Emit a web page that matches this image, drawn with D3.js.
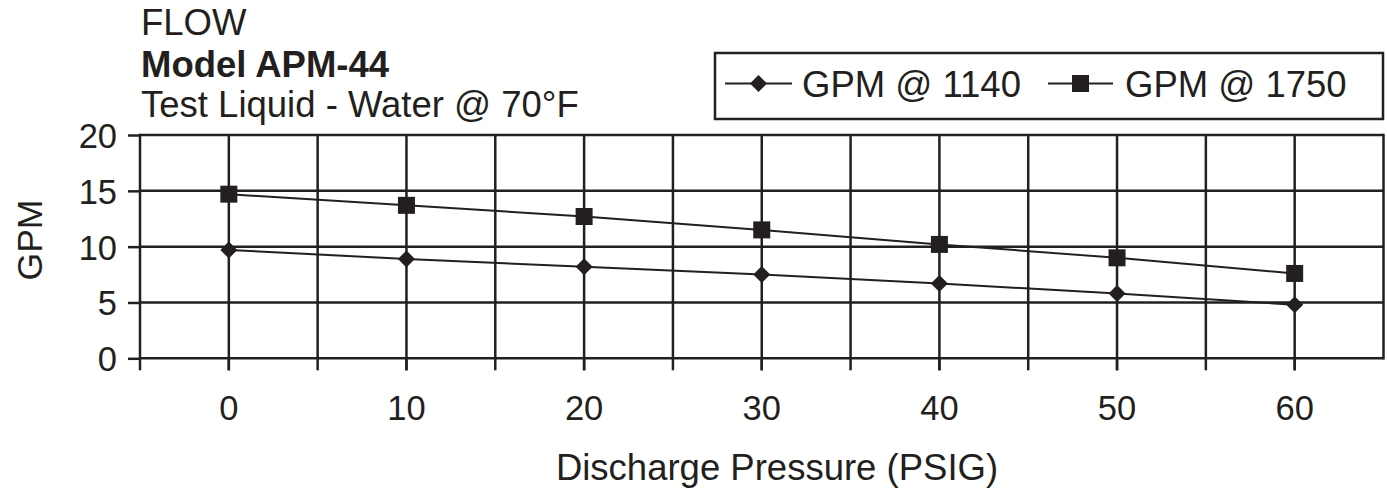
<!DOCTYPE html>
<html><head><meta charset="utf-8">
<script src="https://cdn.jsdelivr.net/npm/d3@7"></script>
<style>body{margin:0;background:#fff}svg{display:block}</style>
</head><body><svg id="c" width="1387" height="489"></svg>
<script>
const categories = [0, 10, 20, 30, 40, 50, 60];
const gpm1140 = [9.7, 8.9, 8.2, 7.5, 6.7, 5.8, 4.8];
const gpm1750 = [14.7, 13.7, 12.7, 11.5, 10.2, 9.0, 7.6];
const yTicks = [0, 5, 10, 15, 20];
const titleLines = ["FLOW", "Model APM-44", "Test Liquid - Water @ 70°F"];
const seriesNames = ["GPM @ 1140", "GPM @ 1750"];
const xTitle = "Discharge Pressure (PSIG)";
const yTitle = "GPM";

const INK = "#231f20";
const FONT = "'Liberation Sans', Arial, Helvetica, sans-serif";
const svg = d3.select("#c");
const L = 140, R = 1383.5, T = 135, B = 358.3, TICK = 12;
const GW = 2.5;

const x = d3.scaleBand().domain(categories).range([L, R]).padding(0);
const bw = x.bandwidth();
const cx = d => x(d) + bw / 2;
const y = d3.scaleLinear().domain([0, 20]).range([B, T]);

// horizontal gridlines
svg.append("g").selectAll("line").data(yTicks).join("line")
  .attr("x1", L).attr("x2", R).attr("y1", d => y(d)).attr("y2", d => y(d))
  .attr("stroke", INK).attr("stroke-width", GW);

// vertical gridlines (band centers and boundaries)
const vpos = [];
categories.forEach(c => { if (c !== categories[0]) vpos.push(x(c)); vpos.push(cx(c)); });
svg.append("g").selectAll("line").data(vpos).join("line")
  .attr("x1", d => d).attr("x2", d => d).attr("y1", T).attr("y2", B + TICK)
  .attr("stroke", INK).attr("stroke-width", GW);
// right border
svg.append("line").attr("x1", R).attr("x2", R).attr("y1", T - GW/2).attr("y2", B + GW/2)
  .attr("stroke", INK).attr("stroke-width", GW);
// left axis
svg.append("line").attr("x1", L).attr("x2", L).attr("y1", T - GW/2).attr("y2", B + TICK)
  .attr("stroke", INK).attr("stroke-width", GW);

// y axis
const yAxis = svg.append("g").attr("transform", `translate(${L},0)`)
  .call(d3.axisLeft(y).tickValues(yTicks).tickSize(TICK).tickPadding(11));
yAxis.select(".domain").remove();
yAxis.selectAll(".tick line").attr("stroke", INK).attr("stroke-width", GW);
yAxis.selectAll(".tick text").attr("fill", INK).attr("font-family", FONT)
  .attr("font-size", 34.5).attr("dy", "0.36em");

// x axis
const xAxis = svg.append("g").attr("transform", `translate(0,${B})`)
  .call(d3.axisBottom(x).tickSize(TICK));
xAxis.select(".domain").remove();
xAxis.selectAll(".tick line").attr("stroke", INK).attr("stroke-width", GW);
xAxis.selectAll(".tick text").attr("fill", INK).attr("font-family", FONT)
  .attr("font-size", 34.5).attr("y", 420 - B).attr("dy", 0);

// series
const line = d3.line().x((d, i) => cx(categories[i])).y(d => y(d));
const diamond = d3.symbol(d3.symbolSquare, 144.5);
const square = d3.symbol(d3.symbolSquare, 289);
const series = [
  { name: seriesNames[0], values: gpm1140, sym: diamond, rot: 45 },
  { name: seriesNames[1], values: gpm1750, sym: square, rot: 0 }
];
series.forEach(s => {
  svg.append("path").attr("d", line(s.values)).attr("fill", "none")
    .attr("stroke", INK).attr("stroke-width", 2);
  svg.append("g").selectAll("path").data(s.values).join("path")
    .attr("d", s.sym)
    .attr("transform", (d, i) => `translate(${cx(categories[i])},${y(d)}) rotate(${s.rot})`)
    .attr("fill", INK);
});

// titles
const tt = svg.append("g").attr("font-family", FONT).attr("fill", INK).attr("font-size", 36.5);
const tb = [35, 77, 117];
titleLines.forEach((t, i) => {
  tt.append("text").attr("x", 141).attr("y", tb[i]).attr("fill", INK)
    .attr("font-weight", i === 1 ? "bold" : "normal").text(t);
});

// axis titles
svg.append("text").attr("x", 777).attr("y", 480).attr("text-anchor", "middle")
  .attr("font-family", FONT).attr("font-size", 36.5).attr("fill", INK).text(xTitle);
svg.append("text").attr("transform", "translate(42,240) rotate(-90)").attr("text-anchor", "middle")
  .attr("font-family", FONT).attr("font-size", 35.5).attr("fill", INK).text(yTitle);

// legend
const lg = svg.append("g");
lg.append("rect").attr("x", 715).attr("y", 53).attr("width", 1383 - 715).attr("height", 119 - 53)
  .attr("fill", "#fff").attr("stroke", INK).attr("stroke-width", 2.5);
const legendItems = [
  { s: series[0], x1: 725, x2: 792, tx: 802 },
  { s: series[1], x1: 1048, x2: 1113, tx: 1125 }
];
legendItems.forEach(it => {
  const ly = 83.5;
  lg.append("line").attr("x1", it.x1).attr("x2", it.x2).attr("y1", ly).attr("y2", ly)
    .attr("stroke", INK).attr("stroke-width", 2);
  lg.append("path").attr("d", it.s.sym)
    .attr("transform", `translate(${(it.x1 + it.x2) / 2},${ly}) rotate(${it.s.rot})`).attr("fill", INK);
  lg.append("text").attr("x", it.tx).attr("y", 97.3).attr("font-family", FONT)
    .attr("font-size", 36.5).attr("fill", INK).text(it.s.name);
});
</script></body></html>
